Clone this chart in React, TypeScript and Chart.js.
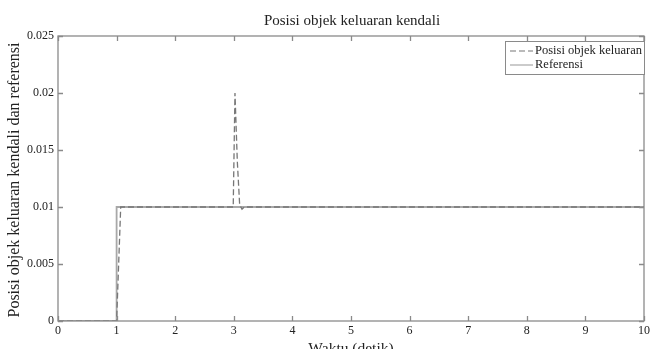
import React, { useEffect, useRef } from "react";
import { Chart, registerables } from "chart.js";

Chart.register(...registerables);

const chartTitle = "Posisi objek keluaran kendali";
const xAxisTitle = "Waktu (detik)";
const yAxisTitle = "Posisi objek keluaran kendali dan referensi";

const outputLabel = "Posisi objek keluaran";
const outputTimes = [0, 1.0, 1.07, 2.99, 3.02, 3.06, 3.1, 3.14, 3.18, 10];
const outputValues = [0, 0, 0.01, 0.01, 0.02, 0.014, 0.0102, 0.0098, 0.01, 0.01];

const referenceLabel = "Referensi";
const referenceTimes = [0, 1.0, 1.0, 10];
const referenceValues = [0, 0, 0.01, 0.01];

const xTicks = [0, 1, 2, 3, 4, 5, 6, 7, 8, 9, 10];
const yTicks = [0, 0.005, 0.01, 0.015, 0.02, 0.025];

const FONT = "'Liberation Serif', 'Times New Roman', serif";
const TEXT = "#222222";
const AXIS = "#8a8a8a";

const decorPlugin = {
  id: "decor",
  afterDraw(chart: any) {
    const { ctx, chartArea } = chart;
    const { left, right, top, bottom } = chartArea;
    const xs = chart.scales.x;
    const ys = chart.scales.y;
    ctx.save();
    // box
    ctx.strokeStyle = AXIS;
    ctx.lineWidth = 1.3;
    ctx.strokeRect(left, top, right - left, bottom - top);
    // inward ticks
    const tl = 5;
    ctx.beginPath();
    xTicks.forEach((v) => {
      const px = Math.round(xs.getPixelForValue(v)) + 0.5;
      ctx.moveTo(px, bottom);
      ctx.lineTo(px, bottom - tl);
      ctx.moveTo(px, top);
      ctx.lineTo(px, top + tl);
    });
    yTicks.forEach((v) => {
      const py = Math.round(ys.getPixelForValue(v)) + 0.5;
      ctx.moveTo(left, py);
      ctx.lineTo(left + tl, py);
      ctx.moveTo(right, py);
      ctx.lineTo(right - tl, py);
    });
    ctx.stroke();

    // title
    ctx.fillStyle = TEXT;
    ctx.font = `15px ${FONT}`;
    ctx.textAlign = "center";
    ctx.textBaseline = "middle";
    ctx.fillText(chartTitle, (left + right) / 2 + 1, 21);
    // x title
    ctx.font = `15.5px ${FONT}`;
    ctx.fillText(xAxisTitle, (left + right) / 2, 349);
    // y title
    ctx.save();
    ctx.font = `16px ${FONT}`;
    ctx.translate(15, 180);
    ctx.rotate(-Math.PI / 2);
    ctx.fillText(yAxisTitle, 0, 0);
    ctx.restore();

    // legend
    const lx = 505, ly = 41, lw = 139, lh = 33;
    ctx.fillStyle = "#ffffff";
    ctx.fillRect(lx, ly, lw, lh);
    ctx.strokeStyle = AXIS;
    ctx.lineWidth = 1;
    ctx.strokeRect(lx + 0.5, ly + 0.5, lw, lh);
    const ds = chart.data.datasets;
    const rows = [ly + 10, ly + 24];
    ds.forEach((d: any, i: number) => {
      const y = rows[i];
      ctx.strokeStyle = d.borderColor;
      ctx.lineWidth = 1.2;
      ctx.setLineDash(d.borderDash || []);
      ctx.beginPath();
      ctx.moveTo(lx + 5, y);
      ctx.lineTo(lx + 28, y);
      ctx.stroke();
      ctx.setLineDash([]);
      ctx.fillStyle = TEXT;
      ctx.font = `12.5px ${FONT}`;
      ctx.textAlign = "left";
      ctx.textBaseline = "middle";
      ctx.fillText(d.label, lx + 30, y);
    });
    ctx.restore();
  },
};

export default function App() {
  const ref = useRef<HTMLCanvasElement | null>(null);
  useEffect(() => {
    if (!ref.current) return;
    const chart = new Chart(ref.current, {
      type: "line",
      data: {
        datasets: [
          {
            label: outputLabel,
            data: outputTimes.map((t, i) => ({ x: t, y: outputValues[i] })),
            borderColor: "#777777",
            borderWidth: 1.3,
            borderDash: [6, 3],
            pointRadius: 0,
            tension: 0,
            fill: false,
          },
          {
            label: referenceLabel,
            data: referenceTimes.map((t, i) => ({ x: t, y: referenceValues[i] })),
            borderColor: "#a8a8a8",
            borderWidth: 1.8,
            pointRadius: 0,
            tension: 0,
            fill: false,
          },
        ],
      },
      options: {
        animation: false,
        responsive: false,
        devicePixelRatio: 1,
        layout: { padding: { top: 36, right: 7, left: 0, bottom: 0 } },
        plugins: {
          legend: { display: false },
          title: { display: false },
          tooltip: { enabled: false },
        },
        scales: {
          x: {
            type: "linear",
            min: 0,
            max: 10,
            grid: { display: false, drawTicks: false },
            border: { display: false },
            afterFit: (s: any) => {
              s.height = 28;
            },
            afterBuildTicks: (s: any) => {
              s.ticks = xTicks.map((v) => ({ value: v }));
            },
            ticks: {
              padding: 3,
              color: TEXT,
              font: { family: FONT, size: 12 },
              maxRotation: 0,
              callback: (v: any) => String(v),
            },
          },
          y: {
            type: "linear",
            min: 0,
            max: 0.025,
            grid: { display: false, drawTicks: false },
            border: { display: false },
            afterFit: (s: any) => {
              s.width = 58;
            },
            afterBuildTicks: (s: any) => {
              s.ticks = yTicks.map((v) => ({ value: v }));
            },
            ticks: {
              padding: 4,
              color: TEXT,
              font: { family: FONT, size: 12 },
              callback: (v: any) => String(Number(v.toFixed(3))),
            },
          },
        },
      },
      plugins: [decorPlugin],
    });
    return () => chart.destroy();
  }, []);
  return (
    <div style={{ position: "fixed", left: 0, top: 0, width: 653, height: 349, background: "#fff" }}>
      <canvas ref={ref} width={653} height={349} />
    </div>
  );
}
